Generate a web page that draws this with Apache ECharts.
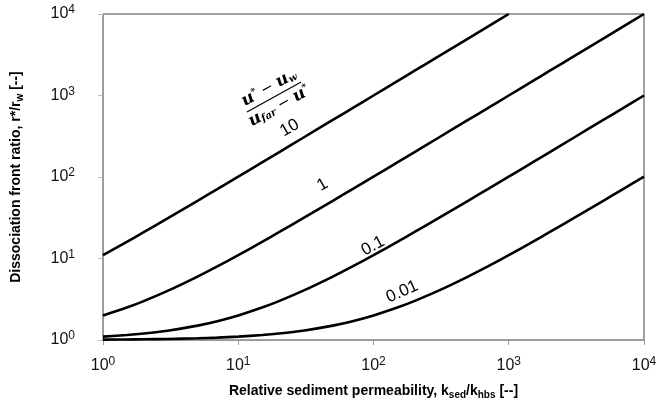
<!DOCTYPE html>
<html>
<head>
<meta charset="utf-8">
<script src="https://cdn.jsdelivr.net/npm/echarts@6/dist/echarts.min.js"></script>
<style>html,body{margin:0;padding:0;background:#fff}#c{width:661px;height:405px}</style>
</head>
<body>
<div id="c"></div>
<script>
// ---- data ----
const kRatio = [1,1.5,2,3,5,7,10,15,20,30,50,70,100,150,200,300,500,700,1000,1500,2000,3000,5000,7000,10000];
const curveNames = ['10','1','0.1','0.01'];
const r10   = [11,16,21,31,51,71,101,151,201,301,501,701,1000,1500,2000,3000,5000,7000,10000];
const r1    = [2,2.5,3,4,6,8,11,16,21,31,51,71,101,151,201,301,501,701,1000,1500,2000,3000,5000,7000,10000];
const r01   = [1.1,1.15,1.2,1.3,1.5,1.7,2,2.5,3,4,6,8,11,16,21,31,51,71,101,151,201,301,501,701,1000];
const r001  = [1.01,1.015,1.02,1.03,1.05,1.07,1.1,1.15,1.2,1.3,1.5,1.7,2,2.5,3,4,6,8,11,16,21,31,51,71,101];
const xTickLabels = ['10^0','10^1','10^2','10^3','10^4'];
const yTickLabels = ['10^0','10^1','10^2','10^3','10^4'];

const curves = [r10, r1, r01, r001];
const FONT = 'Liberation Sans, Arial, sans-serif';

function supLabel(v){
  const e = Math.round(Math.log10(v));
  return '{b|10}{s|' + e + '}';
}
const tickRich = {
  b:{fontSize:16, fontFamily:FONT, color:'#111'},
  s:{fontSize:12, fontFamily:FONT, color:'#111', verticalAlign:'top', padding:[0,0,8,0]}
};
const nameRich = {
  n:{fontSize:14, fontWeight:'bold', fontFamily:FONT, color:'#000', lineHeight:17},
  sub:{fontSize:10, fontWeight:'bold', fontFamily:FONT, color:'#000', verticalAlign:'bottom', padding:[5,0,0,0]}
};

const chart = echarts.init(document.getElementById('c'), null, {renderer:'canvas'});
const option = {
  animation:false,
  backgroundColor:'#fff',
  grid:{left:103, right:17, top:14, bottom:65, show:true, borderColor:'#444', borderWidth:1},
  xAxis:{
    type:'log', logBase:10, min:1, max:10000,
    name:'{n|Relative sediment permeability, k}{sub|sed}{n|/k}{sub|hbs}{n| [--]}',
    nameLocation:'middle', nameGap:43,
    nameTextStyle:{rich:nameRich},
    axisLine:{lineStyle:{color:'#999', width:1}},
    axisTick:{show:true, length:5, lineStyle:{color:'#999'}},
    minorTick:{show:false},
    axisLabel:{formatter:supLabel, rich:tickRich, margin:16},
    splitLine:{show:false}
  },
  yAxis:{
    type:'log', logBase:10, min:1, max:10000,
    name:'{n|Dissociation front ratio, r*/r}{sub|w}{n| [--]}',
    nameLocation:'middle', nameGap:78,
    nameTextStyle:{rich:nameRich},
    axisLine:{show:true, lineStyle:{color:'#999', width:1}},
    axisTick:{show:true, length:5, lineStyle:{color:'#bbb'}},
    minorTick:{show:false},
    axisLabel:{formatter:supLabel, rich:tickRich, margin:28},
    splitLine:{show:false}
  },
  series: curves.map((vals, i) => ({
    name: curveNames[i],
    type:'line',
    showSymbol:false,
    smooth:0.3,
    clip:true,
    lineStyle:{color:'#000', width:2.6},
    data: vals.map((v, j) => [kRatio[j], v])
  }))
};
chart.setOption(option);

// ---- annotations (anchored in data space) ----
const labelSpecs = [
  {text:'10',   at:[24,400],  rot:30},
  {text:'1',    at:[42,80],   rot:30},
  {text:'0.1',  at:[99,14.2], rot:28},
  {text:'0.01', at:[163,3.9], rot:24}
];
const graphics = labelSpecs.map(s => {
  const p = chart.convertToPixel({gridIndex:0}, s.at);
  return {
    type:'text', x:p[0], y:p[1], rotation:s.rot*Math.PI/180,
    style:{text:s.text, fontSize:17, fontFamily:FONT, fill:'#000', align:'center', verticalAlign:'middle'}
  };
});
const fp = chart.convertToPixel({gridIndex:0}, [18.4, 960]);
const fracRich = {
  i:{fontSize:17, fontStyle:'italic', fontWeight:'bold', fontFamily:'DejaVu Serif, Liberation Serif, serif', fill:'#000'},
  sp:{fontSize:9, fontWeight:'bold', fontFamily:'DejaVu Serif, serif', fill:'#000', verticalAlign:'top', padding:[0,0,8,0]},
  sb:{fontSize:10, fontStyle:'italic', fontWeight:'bold', fontFamily:'DejaVu Serif, serif', fill:'#000', verticalAlign:'bottom', padding:[6,0,0,0]},
  o:{fontSize:15, fontFamily:'DejaVu Serif, serif', fill:'#000'}
};
graphics.push({
  type:'group', x:fp[0], y:fp[1], rotation:29*Math.PI/180,
  children:[
    {type:'text', x:0, y:-2, style:{text:'{i|u}{sp|*}{o| − }{i|u}{sb|w}', rich:fracRich, align:'center', verticalAlign:'bottom'}},
    {type:'line', shape:{x1:-31, y1:0, x2:31, y2:0}, style:{stroke:'#000', lineWidth:1.2}},
    {type:'text', x:0, y:2, style:{text:'{i|u}{sb|far}{o| − }{i|u}{sp|*}', rich:fracRich, align:'center', verticalAlign:'top'}}
  ]
});
chart.setOption({graphic:graphics});
</script>
</body>
</html>
